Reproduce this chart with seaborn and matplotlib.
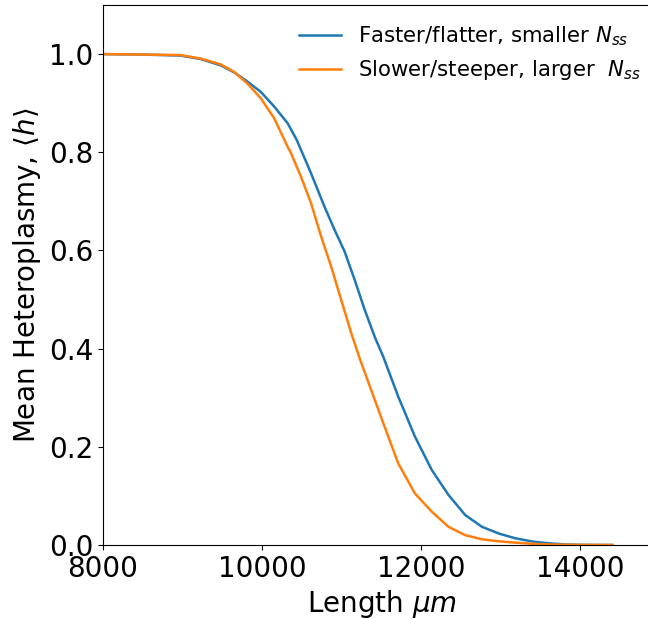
import matplotlib
matplotlib.use("Agg")
import matplotlib.pyplot as plt
import seaborn as sns
import pandas as pd

# Faster/flatter, smaller N_ss (blue)
fast_x = [7800, 8000, 8500, 8973, 9226, 9479, 9646, 9815, 9983, 10152, 10321, 10435,
          10525, 10615, 10784, 10910, 11036, 11163, 11289, 11415, 11521, 11711, 11920,
          12131, 12342, 12552, 12763, 12980, 13184, 13400, 13606, 13800, 14000, 14400]
fast_h = [1.0, 1.0, 0.999, 0.997, 0.990, 0.977, 0.963, 0.944, 0.923, 0.893, 0.859, 0.825,
          0.791, 0.757, 0.689, 0.642, 0.598, 0.540, 0.479, 0.424, 0.384, 0.302, 0.221,
          0.153, 0.102, 0.061, 0.037, 0.023, 0.0136, 0.007, 0.0034, 0.0012, 0.0003, 0.0]

# Slower/steeper, larger N_ss (orange)
slow_x = [7800, 8000, 8500, 8973, 9226, 9479, 9646, 9815, 9983, 10152, 10321, 10363,
          10489, 10615, 10742, 10868, 10994, 11121, 11226, 11500, 11711, 11920, 12131,
          12342, 12552, 12763, 12980, 13184, 13400, 13606, 14000, 14405]
slow_h = [1.0, 1.0, 0.999, 0.998, 0.991, 0.979, 0.964, 0.940, 0.910, 0.869, 0.811, 0.798,
          0.750, 0.696, 0.628, 0.567, 0.499, 0.431, 0.380, 0.258, 0.166, 0.105, 0.068,
          0.037, 0.020, 0.0116, 0.0075, 0.0047, 0.0025, 0.001, 0.0002, 0.0]

labels = ["Faster/flatter, smaller $N_{ss}$", "Slower/steeper, larger  $N_{ss}$"]
colors = ["#1f77b4", "#ff7f0e"]

df = pd.concat([
    pd.DataFrame({"length": fast_x, "h": fast_h, "series": labels[0]}),
    pd.DataFrame({"length": slow_x, "h": slow_h, "series": labels[1]}),
])

fig = plt.figure(figsize=(6.48, 6.19), dpi=100)
ax = fig.add_axes([103 / 648, 1 - 545 / 619, (660 - 103) / 648, (545 - 5) / 619])
sns.lineplot(data=df, x="length", y="h", hue="series", palette=colors, ax=ax,
             linewidth=1.8, sort=False, estimator=None)
ax.set_xlim(8000, 15000)
ax.set_ylim(0, 1.1)
ax.set_xticks([8000, 10000, 12000, 14000])
ax.set_yticks([0.0, 0.2, 0.4, 0.6, 0.8, 1.0])
ax.tick_params(labelsize=20)
ax.set_xlabel(r"Length $\mu m$", fontsize=20)
ax.set_ylabel(r"Mean Heteroplasmy, $\langle h \rangle$", fontsize=20)
ax.legend(title=None, frameon=False, fontsize=15.3, loc="upper right")
fig.savefig("out.png", dpi=100)
